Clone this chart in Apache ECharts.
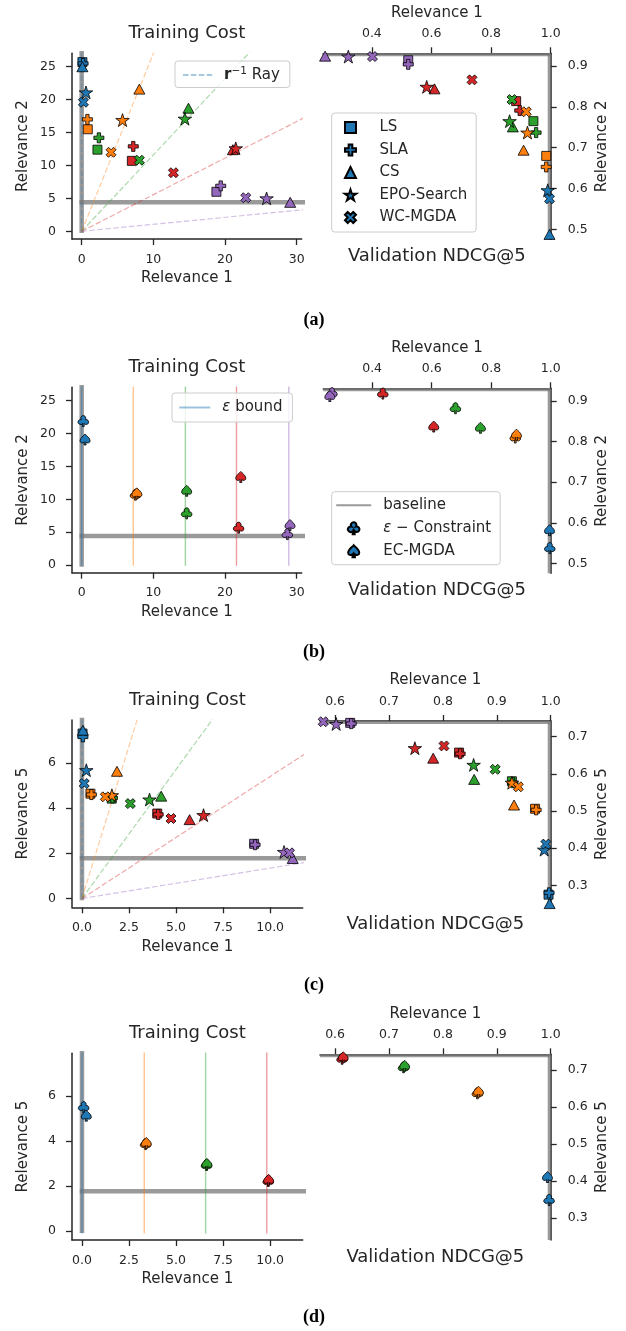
<!DOCTYPE html>
<html><head><meta charset="utf-8">
<script src="https://cdn.jsdelivr.net/npm/echarts@6/dist/echarts.min.js"></script>
<style>html,body{margin:0;padding:0;background:#fff}#c{width:626px;height:1331px}</style>
</head><body><div id="c"></div><script>
// ---------------- DATA ----------------
const palette = ['#1f77b4','#ff7f0e','#2ca02c','#d62728','#9467bd'];
const methods = ['LS','SLA','CS','EPO-Search','WC-MGDA'];

// (a) Training cost: [Relevance 1, Relevance 2] per preference (blue, orange, green, red, purple)
const aTrainLS  = [[0.1,25.7],[0.85,15.5],[2.2,12.4],[7.0,10.7],[18.8,6.0]];
const aTrainSLA = [[0.2,25.5],[0.8,17.0],[2.4,14.2],[7.2,12.9],[19.4,6.9]];
const aTrainCS  = [[0.1,25.0],[8.05,21.6],[14.9,18.7],[21.1,12.4],[29.1,4.4]];
const aTrainEPO = [[0.6,21.1],[5.7,16.9],[14.4,17.1],[21.5,12.6],[25.8,5.0]];
const aTrainWC  = [[0.25,19.6],[4.1,12.0],[8.05,10.8],[12.8,8.9],[22.9,5.1]];
// (a) Validation NDCG@5
const aValLS  = [[0.999,0.462],[0.985,0.680],[0.942,0.765],[0.884,0.814],[0.522,0.914]];
const aValSLA = [[0.999,0.458],[0.985,0.653],[0.951,0.737],[0.896,0.791],[0.522,0.904]];
const aValCS  = [[0.996,0.488],[0.909,0.694],[0.873,0.751],[0.610,0.844],[0.243,0.924]];
const aValEPO = [[0.990,0.596],[0.922,0.737],[0.862,0.765],[0.584,0.849],[0.321,0.923]];
const aValWC  = [[0.996,0.575],[0.918,0.788],[0.870,0.818],[0.736,0.866],[0.402,0.923]];
// (b) epsilon-constraint methods
const bTrainEps = [[0.23,21.9],[7.5,10.7],[14.65,7.86],[21.9,5.68],[28.7,4.7]];
const bTrainEC  = [[0.47,19.1],[7.7,10.9],[14.65,11.3],[22.2,13.4],[29.07,6.08]];
const bBounds   = [0, 7.2, 14.47, 21.6, 28.9];
const bValEps = [[0.997,0.538],[0.881,0.810],[0.680,0.882],[0.436,0.918],[0.265,0.919]];
const bValEC  = [[0.996,0.582],[0.885,0.817],[0.764,0.834],[0.607,0.837],[0.258,0.912]];
// (c) Training cost: [Relevance 1, Relevance 5]
const cTrainLS  = [[0.03,7.3],[0.45,4.64],[1.58,4.42],[4.0,3.76],[9.15,2.42]];
const cTrainSLA = [[0.05,7.15],[0.5,4.6],[1.62,4.45],[4.05,3.72],[9.2,2.38]];
const cTrainCS  = [[0.05,7.45],[1.86,5.63],[4.21,4.53],[5.72,3.49],[11.2,1.77]];
const cTrainEPO = [[0.23,5.68],[1.59,4.57],[3.59,4.38],[6.46,3.69],[10.74,2.06]];
const cTrainWC  = [[0.12,5.09],[1.24,4.5],[2.57,4.2],[4.73,3.54],[11.03,2.02]];
const cValLS  = [[0.996,0.275],[0.971,0.506],[0.928,0.580],[0.830,0.657],[0.628,0.737]];
const cValSLA = [[0.997,0.280],[0.973,0.503],[0.930,0.576],[0.832,0.654],[0.630,0.735]];
const cValCS  = [[0.998,0.251],[0.932,0.516],[0.858,0.585],[0.782,0.642],[0.566,0.745]];
const cValEPO = [[0.988,0.396],[0.928,0.576],[0.857,0.624],[0.748,0.669],[0.602,0.734]];
const cValWC  = [[0.991,0.411],[0.940,0.565],[0.897,0.612],[0.802,0.675],[0.578,0.740]];
// (d)
const dTrainEps = [[0.09,5.51],[3.38,3.87],[6.62,2.94],[9.9,2.23]];
const dTrainEC  = [[0.23,5.13],[3.42,3.92],[6.64,2.99],[9.92,2.28]];
const dBounds   = [0, 3.31, 6.57, 9.82];
const dValEps = [[0.997,0.349],[0.864,0.637],[0.727,0.707],[0.613,0.730]];
const dValEC  = [[0.994,0.411],[0.866,0.641],[0.729,0.711],[0.615,0.734]];

// preference ray directions (r^-1)
const aRayDirs = [[0,1],[1,2.70],[1,1.16],[1,0.556],[1,0.106]];
const cRayDirs = [[0,1],[1,2.70],[1,1.143],[1,0.540],[1,0.1345]];
// baselines [Relevance 1, Relevance k]
const abTrainBase = [0, 4.4];
const cdTrainBase = [0, 1.78];
const abValBase = [1.0, 0.931];
const cdValBase = [1.0, 0.742];
// axis ranges
const abTrainX = [-1.35, 30.7], abTrainY = [-1.17, 27.04];
const cdTrainX = [-0.53, 11.73], cdTrainY = [-0.39, 7.9];
const abValX = [0.236, 1.0], abValY = [0.476, 0.931];
const cdValX = [0.572, 1.0], cdValY = [0.241, 0.742];
// tick labels
const abTrainXTicks = [0,10,20,30], abTrainYTicks = [0,5,10,15,20,25];
const cdTrainXTicks = [0,2.5,5,7.5,10], cdTrainYTicks = [0,2,4,6];
const abValXTicks = [0.4,0.6,0.8,1.0], abValYTicks = [0.5,0.6,0.7,0.8,0.9];
const cdValXTicks = [0.6,0.7,0.8,0.9,1.0], cdValYTicks = [0.3,0.4,0.5,0.6,0.7];

// ---------------- STYLE ----------------
const FONT = 'DejaVu Sans';
const INK = '#262626';
const SYM = {
  'LS': 'rect',
  'SLA': 'path://M33.3 0H66.7V33.3H100V66.7H66.7V100H33.3V66.7H0V33.3H33.3Z',
  'CS': 'path://M50 0L100 100H0Z',
  'EPO-Search': 'path://M50 0L61.23 34.55L97.55 34.55L68.17 55.9L79.39 90.45L50 69.1L20.61 90.45L31.83 55.9L2.45 34.55L38.77 34.55Z',
  'WC-MGDA': 'path://M25 0L50 25L75 0L100 25L75 50L100 75L75 100L50 75L25 100L0 75L25 50L0 25Z',
  'club': 'path://M32.14 38.86A22 22 0 1 1 67.86 38.86A22 22 0 1 1 55.98 72.62L58 100L42 100L44.02 72.62A22 22 0 1 1 32.14 38.86Z',
  'spade': 'path://M50 0C60 15 96 35 96 62C96 82 72 88 56 74L60 100L40 100L44 74C28 88 4 82 4 62C4 35 40 15 50 0Z'
};
const SIZE = {'LS':9,'SLA':10,'CS':[11,10],'EPO-Search':13.5,'WC-MGDA':10,'club':11,'spade':11};
function rgba(hex, a){const n=parseInt(hex.slice(1),16);return `rgba(${n>>16},${(n>>8)&255},${n&255},${a})`;}

const series = [];
function addScatter(gi, name, pts, sym){
  series.push({type:'scatter', name, xAxisIndex:gi, yAxisIndex:gi, symbol:SYM[sym], symbolSize:SIZE[sym],
    symbolKeepAspect:true, z:3, silent:true, animation:false,
    itemStyle:{color:palette[0], borderColor:'#000', borderWidth:0.8, opacity:1},
    data: pts.map((p,i)=>({value:p, itemStyle:{color:palette[i]}}))});
}
function addLine(gi, name, pts, color, width, dash, z){
  series.push({type:'line', name, xAxisIndex:gi, yAxisIndex:gi, data:pts, symbol:'none', showSymbol:false,
    clip:true, silent:true, animation:false, z, lineStyle:{color, width, type:dash||'solid', cap:'butt'}, itemStyle:{color}});
}
const GREY = 'rgba(120,120,120,0.75)';
function trainBaseline(gi, b, xr, yr){
  const sx = -0.01*(xr[1]), sy = -0.01*(yr[1]);
  addLine(gi, 'baseline', [[b[0], sy],[b[0], 1e3]], GREY, 4.5, 'solid', 1);
  addLine(gi, 'baseline', [[sx, b[1]],[1e3, b[1]]], GREY, 4.5, 'solid', 1);
}
// validation baselines: a vertical and a horizontal band through the baseline point, clipped to the plot area
function valBaseline(gi, b){
  series.push({type:'custom', name:'baseline_v'+gi, xAxisIndex:gi, yAxisIndex:gi, data:[b], z:1, silent:true, animation:false,
    renderItem:(params, api)=>{
      const p = api.coord([api.value(0), api.value(1)]);
      const cs = params.coordSys, hw = 3;
      const rv = echarts.graphic.clipRectByRect({x:p[0]-hw, y:cs.y-20, width:2*hw, height:cs.height+40}, cs);
      const rh = echarts.graphic.clipRectByRect({x:cs.x-20, y:p[1]-hw, width:cs.width+40, height:2*hw}, cs);
      const ch = [];
      if (rv) ch.push({type:'rect', shape:rv, style:{fill:GREY}});
      if (rh) ch.push({type:'rect', shape:rh, style:{fill:GREY}});
      return {type:'group', children:ch};
    }});
}
function addRays(gi, dirs){
  dirs.forEach((d,i)=>addLine(gi, i===0?'ray':'ray'+i, [[0,0],[d[0]*1e3, d[1]*1e3]], rgba(palette[i],0.4), 1.2, [5.5,2.4], 2));
}
function addBounds(gi, bounds){
  bounds.forEach((x,i)=>addLine(gi, i===0?'ebound':'ebound'+i, [[x,-0.1],[x,1e3]], rgba(palette[i],0.45), 1.4, 'solid', 2));
}

// panel a
trainBaseline(0, abTrainBase, abTrainX, abTrainY);
addRays(0, aRayDirs);
[aTrainLS,aTrainSLA,aTrainCS,aTrainEPO,aTrainWC].forEach((d,k)=>addScatter(0, methods[k], d, methods[k]));
valBaseline(1, abValBase);
[aValLS,aValSLA,aValCS,aValEPO,aValWC].forEach((d,k)=>addScatter(1, methods[k], d, methods[k]));
// panel b
trainBaseline(2, abTrainBase, abTrainX, abTrainY);
addBounds(2, bBounds);
addScatter(2, 'eps', bTrainEps, 'club');
addScatter(2, 'EC-MGDA', bTrainEC, 'spade');
valBaseline(3, abValBase);
addScatter(3, 'eps', bValEps, 'club');
addScatter(3, 'EC-MGDA', bValEC, 'spade');
// panel c
trainBaseline(4, cdTrainBase, cdTrainX, cdTrainY);
addRays(4, cRayDirs);
[cTrainLS,cTrainSLA,cTrainCS,cTrainEPO,cTrainWC].forEach((d,k)=>addScatter(4, methods[k], d, methods[k]));
valBaseline(5, cdValBase);
[cValLS,cValSLA,cValCS,cValEPO,cValWC].forEach((d,k)=>addScatter(5, methods[k], d, methods[k]));
// panel d
trainBaseline(6, cdTrainBase, cdTrainX, cdTrainY);
addBounds(6, dBounds);
addScatter(6, 'eps', dTrainEps, 'club');
addScatter(6, 'EC-MGDA', dTrainEC, 'spade');
valBaseline(7, cdValBase);
addScatter(7, 'eps', dValEps, 'club');
addScatter(7, 'EC-MGDA', dValEC, 'spade');

// ---------------- LAYOUT ----------------
const GRIDS = [
  {left:72, top:53.3, width:229.7, height:185.7},
  {left:323, top:53.3, width:227.7, height:186},
  {left:72, top:387.3, width:229.7, height:185.4},
  {left:323.3, top:388.3, width:227.4, height:185},
  {left:72, top:720, width:230.7, height:187.3},
  {left:320, top:721, width:230.7, height:186.3},
  {left:72, top:1053.3, width:230.7, height:186.7},
  {left:320, top:1054.3, width:230.7, height:185.7}
].map(g=>Object.assign({containLabel:false, outerBoundsMode:'none'}, g));

const fInt = v=>String(Math.round(v));
const f1 = v=>v.toFixed(1);
function mkAxis(gi, range, ticks, fmt, name, pos, nameGap, margin, rot){
  return {gridIndex:gi, type:'value', min:range[0], max:range[1], position:pos,
    splitLine:{show:false},
    axisLine:{show:true, onZero:false, lineStyle:{color:INK, width:1.5}},
    axisTick:{show:true, inside:false, length:6, customValues:ticks, lineStyle:{color:INK, width:1.3}},
    axisLabel:{show:true, customValues:ticks, formatter:fmt, fontFamily:FONT, fontSize:12.5, color:INK, margin, hideOverlap:false},
    name, nameLocation:'middle', nameGap, nameRotate:rot,
    nameTextStyle:{fontFamily:FONT, fontSize:15, color:INK}};
}
const xAxis = [], yAxis = [];
const panelCfg = [
  [abTrainX, abTrainY, abTrainXTicks, abTrainYTicks, fInt, fInt, 'Relevance 2'],
  [abValX, abValY, abValXTicks, abValYTicks, f1, f1, 'Relevance 2'],
  [abTrainX, abTrainY, abTrainXTicks, abTrainYTicks, fInt, fInt, 'Relevance 2'],
  [abValX, abValY, abValXTicks, abValYTicks, f1, f1, 'Relevance 2'],
  [cdTrainX, cdTrainY, cdTrainXTicks, cdTrainYTicks, f1, fInt, 'Relevance 5'],
  [cdValX, cdValY, cdValXTicks, cdValYTicks, f1, f1, 'Relevance 5'],
  [cdTrainX, cdTrainY, cdTrainXTicks, cdTrainYTicks, f1, fInt, 'Relevance 5'],
  [cdValX, cdValY, cdValXTicks, cdValYTicks, f1, f1, 'Relevance 5']
];
panelCfg.forEach((c,gi)=>{
  const isVal = gi%2===1;
  xAxis.push(mkAxis(gi, c[0], c[2], c[4], 'Relevance 1', isVal?'top':'bottom', isVal?33:32, isVal?13:14, 0));
  yAxis.push(mkAxis(gi, c[1], c[3], c[5], c[6], isVal?'right':'left', isVal?44:41, isVal?17:16, 90));
});

const graphic = [];
function txt(x,y,text,font,color){graphic.push({type:'text', x, y, silent:true, style:{text, font, fill:color||INK, align:'center', verticalAlign:'middle'}});}
GRIDS.forEach((g,gi)=>{
  const cx = g.left + g.width/2;
  if (gi%2===0) txt(cx, g.top-19.5, 'Training Cost', '18px "DejaVu Sans"');
  else txt(cx, g.top+g.height+17, 'Validation NDCG@5', '18px "DejaVu Sans"');
});
[['(a)',320],['(b)',652],['(c)',985],['(d)',1317]].forEach(p=>txt(314, p[1], p[0], 'bold 18px "Liberation Serif"', '#000'));

const legBox = {backgroundColor:'rgba(255,255,255,0.8)', borderColor:'#cccccc', borderWidth:1, borderRadius:3, selectedMode:false, orient:'vertical', z:10};
const hideSym = {itemStyle:{opacity:0}};
const legend = [
  Object.assign({}, legBox, {data:[Object.assign({name:'ray'}, hideSym)], left:175, top:61, itemWidth:31, itemHeight:10, padding:[5,10,5,7], itemGap:0,
    formatter:()=>'{b|r}{s|−1} Ray',
    textStyle:{fontFamily:FONT, fontSize:15, color:INK, padding:[0,0,0,5], rich:{b:{fontFamily:FONT,fontSize:15,fontWeight:'bold',color:INK}, s:{fontFamily:FONT,fontSize:10.5,color:INK,padding:[0,0,7,0]}}}}),
  Object.assign({}, legBox, {data:methods.map(m=>({name:m, icon:SYM[m]==='rect'?'path://M0 0H10V10H0Z':SYM[m]})), left:331.7, top:113, itemWidth:18, itemHeight:11, padding:[7,9,7,12], itemGap:7.5,
    textStyle:{fontFamily:FONT, fontSize:15, color:INK, lineHeight:15, padding:[0,0,0,15]}}),
  Object.assign({}, legBox, {data:[Object.assign({name:'ebound'}, hideSym)], left:172, top:393, itemWidth:31, itemHeight:10, padding:[7,10,7,6.3], itemGap:0,
    formatter:()=>'{e|ε} bound',
    textStyle:{fontFamily:FONT, fontSize:15, color:INK, padding:[0,0,0,7], rich:{e:{fontFamily:FONT,fontSize:15,fontStyle:'italic',color:INK}}}}),
  Object.assign({}, legBox, {data:[Object.assign({name:'baseline'}, hideSym), {name:'eps', icon:SYM.club}, {name:'EC-MGDA', icon:SYM.spade}], left:331.7, top:491.7, itemWidth:35, itemHeight:12, padding:[6,9,6,3.5], itemGap:8,
    formatter:n=>n==='eps'?'{e|ε} − Constraint':n,
    textStyle:{fontFamily:FONT, fontSize:15, color:INK, lineHeight:15, padding:[0,0,0,7], rich:{e:{fontFamily:FONT,fontSize:15,fontStyle:'italic',color:INK}}}})
];

const chart = echarts.init(document.getElementById('c'), null, {renderer:'canvas', width:626, height:1331});
chart.setOption({animation:false, backgroundColor:'#fff', grid:GRIDS, xAxis, yAxis, series, legend, graphic});
</script></body></html>
